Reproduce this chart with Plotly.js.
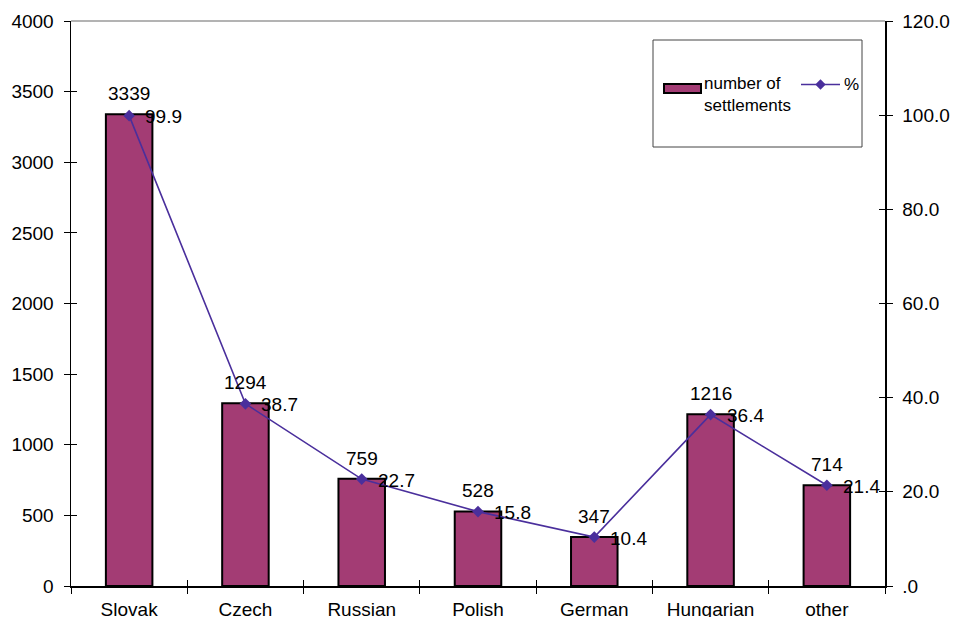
<!DOCTYPE html>
<html>
<head>
<meta charset="utf-8">
<script src="https://cdn.plot.ly/plotly-3.0.1.min.js"></script>
<style>
  html, body { margin: 0; padding: 0; background: #ffffff; }
  #chart { width: 956px; height: 617px; }
</style>
</head>
<body>
<div id="chart"></div>
<script>
// Settlements by nationality: count (bars, left axis) and share in percent (line, right axis)
const categories = ["Slovak", "Czech", "Russian", "Polish", "German", "Hungarian", "other"];
const settlements = [3339, 1294, 759, 528, 347, 1216, 714];
const percent = [99.9, 38.7, 22.7, 15.8, 10.4, 36.4, 21.4];

const leftTicks = [0, 500, 1000, 1500, 2000, 2500, 3000, 3500, 4000];
const rightTicks = [0, 20, 40, 60, 80, 100, 120];
const rightTickLabels = [".0", "20.0", "40.0", "60.0", "80.0", "100.0", "120.0"];

const barColor = "#A33C74";
const lineColor = "#4A2F9C";
const family = "Liberation Sans, Arial, sans-serif";
const font = { family: family, size: 19, color: "#000000" };

const bars = {
  type: "bar",
  name: "number of settlements",
  x: categories,
  y: settlements,
  yaxis: "y",
  width: 0.4,
  marker: { color: barColor, line: { color: "#000000", width: 2 } },
  hoverinfo: "x+y"
};

const line = {
  type: "scatter",
  mode: "lines+markers",
  name: "%",
  x: categories,
  y: percent,
  yaxis: "y2",
  line: { color: lineColor, width: 1.6 },
  marker: { symbol: "diamond", size: 9, color: lineColor },
  cliponaxis: false
};

// Category boundaries, used for the inner half of the crossing x ticks
const boundaries = categories.map((c, i) => i - 0.5).concat([categories.length - 0.5]);

// Invisible helpers that carry the overlay axes drawing the inner half of each tick
const tickHelperLeft = { type: "scatter", mode: "markers", x: [0], y: [0], xaxis: "x3", yaxis: "y4",
  marker: { opacity: 0 }, hoverinfo: "skip", showlegend: false };
const tickHelperRight = { type: "scatter", mode: "markers", x: [0], y: [0], xaxis: "x3", yaxis: "y5",
  marker: { opacity: 0 }, hoverinfo: "skip", showlegend: false };

// Legend box drawn in paper coordinates (plot area spans 71..885 x 21..586 px)
const W = 956, H = 617, L = 71, R = 885, T = 21, B = 586;
const px = x => (x - L) / (R - L);
const py = y => (B - y) / (B - T);

const shapes = [
  // grey top border of the plot area
  { type: "line", xref: "paper", yref: "paper", x0: 0, x1: 1, y0: 1, y1: 1,
    line: { color: "#9a9a9a", width: 1.5 } },
  // legend frame
  { type: "rect", xref: "paper", yref: "paper", x0: px(653), x1: px(862), y0: py(147), y1: py(40),
    line: { color: "#444444", width: 1 }, fillcolor: "rgba(255,255,255,0)" },
  // bar swatch
  { type: "rect", xref: "paper", yref: "paper", x0: px(664), x1: px(701), y0: py(93), y1: py(84),
    line: { color: "#000000", width: 2 }, fillcolor: barColor },
  // line swatch
  { type: "line", xref: "paper", yref: "paper", x0: px(801), x1: px(840), y0: py(84.5), y1: py(84.5),
    line: { color: lineColor, width: 1.6 } }
];

const legendFont = { family: family, size: 17, color: "#000" };
const annotations = [
  { xref: "paper", yref: "paper", x: px(702), y: py(72), xanchor: "left", yanchor: "top",
    text: "number of<br>settlements", align: "left", showarrow: false, font: legendFont },
  { xref: "paper", yref: "paper", x: px(842), y: py(84.5), xanchor: "left", yanchor: "middle",
    text: "%", showarrow: false, font: legendFont }
];

// value labels above each bar
settlements.forEach((v, i) => {
  annotations.push({ xref: "x", yref: "y", x: categories[i], y: v, xanchor: "center", yanchor: "bottom",
    yshift: 8, text: String(v), showarrow: false, font: font });
});
// percent labels to the right of each line point
percent.forEach((v, i) => {
  annotations.push({ xref: "x", yref: "y2", x: categories[i], y: v, xanchor: "left", yanchor: "middle",
    xshift: 14, yshift: -1, text: v.toFixed(1), showarrow: false, font: font });
});

// legend marker (diamond) on the line swatch
const legendMarker = {
  type: "scatter", mode: "markers", xaxis: "x2", yaxis: "y3",
  x: [0], y: [0], marker: { symbol: "diamond", size: 8, color: lineColor },
  hoverinfo: "skip", showlegend: false
};

const tickStyle = { tickcolor: "#000000", tickwidth: 1 };

const layout = {
  width: W, height: H,
  margin: { l: L, r: W - R, t: T, b: H - B, pad: 0 },
  paper_bgcolor: "#ffffff",
  plot_bgcolor: "#ffffff",
  font: font,
  showlegend: false,
  xaxis: Object.assign({
    type: "category",
    range: [-0.5, categories.length - 0.5],
    showgrid: false,
    showline: true, linecolor: "#000000", linewidth: 1.5,
    ticks: "outside", tickson: "boundaries", ticklen: 6,
    tickfont: font, ticklabelstandoff: 6,
    zeroline: false
  }, tickStyle),
  yaxis: Object.assign({
    range: [0, 4000],
    tickvals: leftTicks,
    showgrid: false, zeroline: false,
    showline: true, linecolor: "#000000", linewidth: 1.5,
    ticks: "outside", ticklen: 6, ticklabelstandoff: 6,
    tickfont: font
  }, tickStyle),
  yaxis2: Object.assign({
    overlaying: "y", side: "right",
    range: [0, 120],
    tickvals: rightTicks, ticktext: rightTickLabels,
    showgrid: false, zeroline: false,
    showline: true, linecolor: "#000000", linewidth: 1.5,
    ticks: "outside", ticklen: 6, ticklabelstandoff: 6,
    tickfont: font
  }, tickStyle),
  xaxis3: Object.assign({
    overlaying: "x", anchor: "y4", side: "bottom",
    range: [-0.5, categories.length - 0.5],
    tickvals: boundaries, ticks: "inside", ticklen: 6,
    showticklabels: false, showgrid: false, zeroline: false, showline: false
  }, tickStyle),
  yaxis4: Object.assign({
    overlaying: "y", anchor: "x3", side: "left",
    range: [0, 4000], tickvals: leftTicks, ticks: "inside", ticklen: 6,
    showticklabels: false, showgrid: false, zeroline: false, showline: false
  }, tickStyle),
  yaxis5: Object.assign({
    overlaying: "y", anchor: "x3", side: "right",
    range: [0, 120], tickvals: rightTicks, ticks: "inside", ticklen: 6,
    showticklabels: false, showgrid: false, zeroline: false, showline: false
  }, tickStyle),
  xaxis2: {
    domain: [px(801), px(840)], range: [-1, 1], anchor: "y3",
    visible: false, fixedrange: true
  },
  yaxis3: {
    domain: [py(94.5), py(74.5)], range: [-1, 1], anchor: "x2",
    visible: false, fixedrange: true
  },
  shapes: shapes,
  annotations: annotations
};

Plotly.newPlot("chart", [tickHelperLeft, tickHelperRight, bars, line, legendMarker], layout,
  { displayModeBar: false, staticPlot: true });
</script>
</body>
</html>
